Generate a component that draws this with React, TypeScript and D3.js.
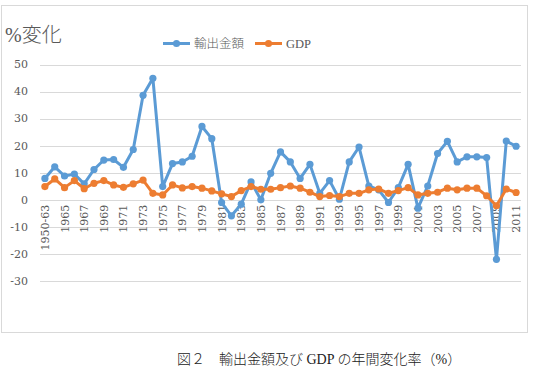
import React from "react";
import * as d3 from "d3";

const years: string[] = ["1950-63"].concat(d3.range(1964, 2012).map(String));

const exportGrowth: number[] = [
  7.9, 12.2, 8.8, 9.5, 5.9, 11.2, 14.7, 14.9, 12.0, 18.6, 38.6, 44.9,
  4.9, 13.4, 14.0, 16.1, 27.1, 22.6, -1.0, -5.9, -1.6, 6.6, 0.0, 9.8,
  17.7, 14.0, 7.9, 13.1, 2.4, 7.1, 0.2, 14.0, 19.5, 5.1, 3.7, -1.0,
  4.5, 13.1, -3.1, 5.1, 17.1, 21.6, 14.0, 15.9, 15.9, 15.6, -22.0, 21.7, 19.8,
];

const gdpGrowth: number[] = [
  4.9, 7.7, 4.5, 7.1, 4.1, 6.1, 7.1, 5.5, 4.6, 5.9, 7.3, 2.4,
  1.8, 5.5, 4.4, 4.9, 4.3, 3.3, 2.2, 1.2, 3.4, 4.9, 3.9, 3.9,
  4.5, 5.1, 4.3, 2.8, 1.2, 1.6, 1.2, 2.4, 2.4, 3.7, 4.0, 2.4,
  3.4, 4.5, 1.8, 2.4, 2.8, 4.3, 3.7, 4.3, 4.3, 1.5, -2.2, 4.0, 2.7,
];

const yTicks: number[] = [50, 40, 30, 20, 10, 0, -10, -20, -30];

const seriesNames = ["輸出金額", "GDP"];
const seriesColors = ["#5B9BD5", "#ED7D31"];

const W = 539;
const H = 375;
const plot = { left: 40, right: 521, top: 64.5, bottom: 281 };
const serifFont = "'DejaVu Serif', 'Noto Sans CJK JP', serif";
const cjkFont = "'Liberation Serif', 'Noto Sans CJK JP', serif";

export default function App() {
  const x = d3
    .scaleBand<string>()
    .domain(years)
    .range([plot.left, plot.right]);
  const y = d3.scaleLinear().domain([-30, 50]).range([plot.bottom, plot.top]);
  const cx = (d: string) => (x(d) ?? 0) + x.bandwidth() / 2;

  const line = d3
    .line<number>()
    .x((_, i) => cx(years[i]))
    .y((v) => y(v));

  const series = [exportGrowth, gdpGrowth];

  return (
    <svg
      width={W}
      height={H}
      style={{ position: "absolute", left: 0, top: 0, background: "#fff" }}
    >
      <rect x={1.5} y={5.5} width={526} height={327} fill="#fff" stroke="#d9d9d9" />

      {/* gridlines */}
      {yTicks.map((t) => (
        <line
          key={t}
          x1={plot.left}
          x2={plot.right}
          y1={Math.round(y(t)) + 0.5}
          y2={Math.round(y(t)) + 0.5}
          stroke="#d9d9d9"
          strokeWidth={1}
        />
      ))}

      {/* y tick labels */}
      {yTicks.map((t) => (
        <text
          key={"l" + t}
          x={plot.left - 12}
          y={y(t)}
          dy="0.35em"
          textAnchor="end"
          fontFamily={serifFont}
          fontSize={11}
          fill="#595959"
        >
          {t}
        </text>
      ))}

      {/* x tick labels, every second category */}
      {years.map((d, i) =>
        i % 2 === 0 ? (
          <text
            key={d}
            transform={`translate(${cx(d) + 4},${y(0) + 5}) rotate(-90)`}
            textAnchor="end"
            fontFamily={serifFont}
            fontSize={11}
            fill="#595959"
          >
            {d}
          </text>
        ) : null
      )}

      {/* series lines and markers */}
      {series.map((vals, si) => (
        <g key={si}>
          <path
            d={line(vals) ?? ""}
            fill="none"
            stroke={seriesColors[si]}
            strokeWidth={3}
            strokeLinejoin="round"
          />
          {vals.map((v, i) => (
            <circle
              key={i}
              cx={cx(years[i])}
              cy={y(v)}
              r={3.6}
              fill={seriesColors[si]}
            />
          ))}
        </g>
      ))}

      {/* axis title */}
      <text
        x={5}
        y={42}
        fontFamily={cjkFont}
        fontSize={20}
        fontWeight={300}
        fill="#595959"
      >
        %変化
      </text>

      {/* legend */}
      {seriesNames.map((name, i) => {
        const lx = i === 0 ? 163 : 255;
        return (
          <g key={name}>
            <line
              x1={lx}
              x2={lx + 27}
              y1={43.5}
              y2={43.5}
              stroke={seriesColors[i]}
              strokeWidth={3}
            />
            <circle cx={lx + 13.5} cy={43.5} r={3.6} fill={seriesColors[i]} />
            <text
              x={lx + 31}
              y={43.5}
              dy="0.35em"
              fontFamily={cjkFont}
              fontSize={12.5}
              fontWeight={300}
              fill="#595959"
            >
              {name}
            </text>
          </g>
        );
      })}

      {/* caption */}
      <text
        x={177}
        y={364}
        fontFamily={cjkFont}
        fontSize={14}
        fontWeight={300}
        fill="#222"
      >
        図２　輸出金額及び GDP の年間変化率（%）
      </text>
    </svg>
  );
}
